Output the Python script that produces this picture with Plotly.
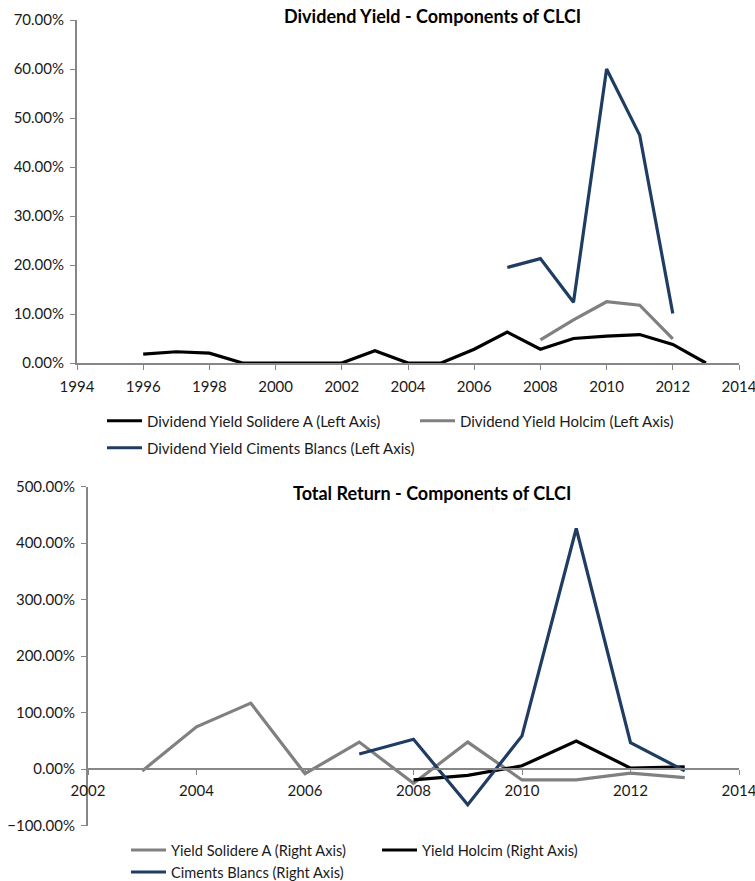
import plotly.graph_objects as go

W, H = 755, 881

# ---- Top chart data (Dividend Yield, %) ----
years_top = list(range(1996, 2014))
div_solidere = [1.8, 2.3, 2.0, 0, 0, 0, 0, 2.5, 0, 0, 2.8, 6.3, 2.8, 5.0, 5.5, 5.8, 3.8, 0]
years_holcim_top = [2008, 2009, 2010, 2011, 2012]
div_holcim = [4.7, 8.8, 12.5, 11.8, 4.9]
years_cb_top = [2007, 2008, 2009, 2010, 2011, 2012]
div_ciments = [19.5, 21.3, 12.4, 60.0, 46.5, 10.1]

# ---- Bottom chart data (Total Return, %) ----
years_sol_bot = list(range(2003, 2014))
tr_solidere = [-3, 75, 117, -8, 48, -25, 48, -19, -19, -7, -15]
years_hol_bot = list(range(2008, 2014))
tr_holcim = [-19, -11, 6, 50, 2, 4]
years_cb_bot = list(range(2007, 2014))
tr_ciments = [27, 53, -63, 59, 426, 47, -3]

BLACK = "#000000"
GREY = "#808080"
BLUE = "#1F3D63"
AXIS = "#868686"
FONT = "Lato"
TXT = "#1a1a1a"

def px_x(x):
    return x / W

def px_y(y):
    return 1 - y / H

fig = go.Figure()

fig.add_trace(go.Scatter(x=years_top, y=div_solidere, mode="lines",
                         name="Dividend Yield Solidere A (Left Axis)",
                         line=dict(color=BLACK, width=3.2), xaxis="x", yaxis="y", legend="legend"))
fig.add_trace(go.Scatter(x=years_holcim_top, y=div_holcim, mode="lines",
                         name="Dividend Yield Holcim (Left Axis)",
                         line=dict(color=GREY, width=3.2), xaxis="x", yaxis="y", legend="legend"))
fig.add_trace(go.Scatter(x=years_cb_top, y=div_ciments, mode="lines",
                         name="Dividend Yield Ciments Blancs (Left Axis)",
                         line=dict(color=BLUE, width=3.2), xaxis="x", yaxis="y", legend="legend2"))

fig.add_trace(go.Scatter(x=years_sol_bot, y=tr_solidere, mode="lines",
                         name="Yield Solidere A (Right Axis)",
                         line=dict(color=GREY, width=3.2), xaxis="x2", yaxis="y2", legend="legend3"))
fig.add_trace(go.Scatter(x=years_hol_bot, y=tr_holcim, mode="lines",
                         name="Yield Holcim (Right Axis)",
                         line=dict(color=BLACK, width=3.2), xaxis="x2", yaxis="y2", legend="legend3"))
fig.add_trace(go.Scatter(x=years_cb_bot, y=tr_ciments, mode="lines",
                         name="Ciments Blancs (Right Axis)",
                         line=dict(color=BLUE, width=3.2), xaxis="x2", yaxis="y2", legend="legend4"))

top_dom_y = [px_y(363), px_y(20)]
bot_dom_y = [px_y(825.7), px_y(486.7)]
bot_zero = bot_dom_y[0] + (bot_dom_y[1] - bot_dom_y[0]) * (100 / 600)

tickfont = dict(family=FONT, size=15, color=TXT)
common_axis = dict(showgrid=False, showline=True, linecolor=AXIS, linewidth=2,
                   ticks="outside", ticklen=5, tickcolor=AXIS, tickwidth=1,
                   tickfont=tickfont, zeroline=False, automargin=False,
                   ticklabeloverflow="allow")

def leg(x, y, ew, size):
    return dict(orientation="h", x=px_x(x), y=px_y(y), xanchor="left", yanchor="middle",
                entrywidth=ew, entrywidthmode="pixels",
                font=dict(family=FONT, size=size, color=TXT), itemwidth=35,
                bgcolor="rgba(0,0,0,0)")

fig.update_layout(
    width=W, height=H,
    margin=dict(l=0, r=0, t=0, b=0, autoexpand=False),
    paper_bgcolor="white", plot_bgcolor="white",
    font=dict(family=FONT, color=TXT),
    xaxis=dict(domain=[px_x(77), px_x(739)], range=[1994, 2014], dtick=2, tick0=1994,
               anchor="y", ticklabelstandoff=4, **common_axis),
    yaxis=dict(domain=top_dom_y, range=[0, 70], dtick=10, tickformat=".2f", ticksuffix="%",
               anchor="x", ticklabelstandoff=3, **common_axis),
    xaxis2=dict(domain=[px_x(88), px_x(739)], range=[2002, 2014], dtick=2, tick0=2002,
                anchor="free", position=bot_zero, ticklabelstandoff=3, **common_axis),
    yaxis2=dict(domain=bot_dom_y, range=[-100, 500], dtick=100, tickformat=".2f", ticksuffix="%",
                anchor="x2", ticklabelstandoff=3, **common_axis),
    legend=leg(102, 421, 263, 15),
    legend2=leg(102, 448, 360, 15),
    legend3=leg(126, 850, 201, 14.6),
    legend4=leg(126, 872, 300, 14.6),
    showlegend=True,
    annotations=[
        dict(text="<b>Dividend Yield - Components of CLCI</b>", x=px_x(432), y=px_y(16),
             xref="paper", yref="paper", xanchor="center", yanchor="middle", showarrow=False,
             font=dict(family=FONT, size=18, color="#000000")),
        dict(text="<b>Total Return - Components of CLCI</b>", x=px_x(432), y=px_y(493),
             xref="paper", yref="paper", xanchor="center", yanchor="middle", showarrow=False,
             font=dict(family=FONT, size=18, color="#000000")),
    ],
)

fig.write_html("out.html", config={"displayModeBar": False},
               post_script="document.body.style.margin='0';document.body.style.overflow='hidden';")
